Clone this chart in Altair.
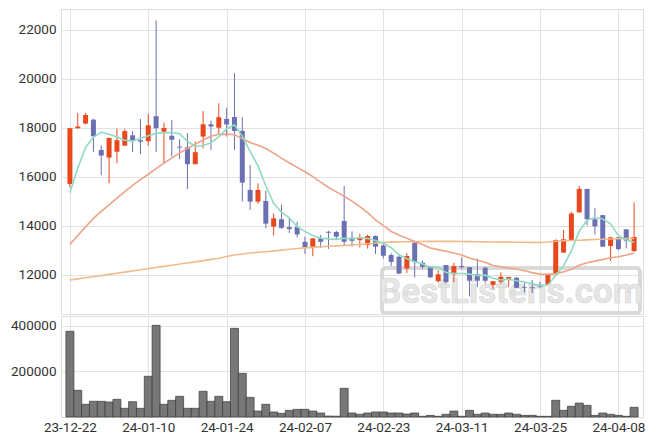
import altair as alt
import pandas as pd

dates = ["23-12-22", "23-12-26", "23-12-27", "23-12-28", "24-01-02", "24-01-03", "24-01-04", "24-01-05",
         "24-01-08", "24-01-09", "24-01-10", "24-01-11", "24-01-12", "24-01-15", "24-01-16", "24-01-17",
         "24-01-18", "24-01-19", "24-01-22", "24-01-23", "24-01-24", "24-01-25", "24-01-26", "24-01-29",
         "24-01-30", "24-01-31", "24-02-01", "24-02-02", "24-02-05", "24-02-06", "24-02-07", "24-02-08",
         "24-02-13", "24-02-14", "24-02-15", "24-02-16", "24-02-19", "24-02-20", "24-02-21", "24-02-22",
         "24-02-23", "24-02-26", "24-02-27", "24-02-28", "24-02-29", "24-03-04", "24-03-05", "24-03-06",
         "24-03-07", "24-03-08", "24-03-11", "24-03-12", "24-03-13", "24-03-14", "24-03-15", "24-03-18",
         "24-03-19", "24-03-20", "24-03-21", "24-03-22", "24-03-25", "24-03-26", "24-03-27", "24-03-28",
         "24-03-29", "24-04-01", "24-04-02", "24-04-03", "24-04-04", "24-04-05", "24-04-08", "24-04-09",
         "24-04-11"]

opens = [15700, 17980, 18170, 18330, 17090, 16780, 17020, 17270, 17690, 17490, 17450, 18470, 17840, 17670,
         17230, 17200, 16510, 17640, 18140, 18000, 18360, 18440, 17870, 15460, 14980, 15010, 13960, 14260,
         13940, 13950, 13340, 13110, 13480, 13750, 13740, 14190, 13505, 13410, 13210, 13575, 13190, 12800,
         12730, 12250, 13300, 12480, 12350, 11730, 12390, 12010, 12350, 12300, 12020, 12280, 11580, 11710,
         11830, 11870, 11490, 11480, 11520, 11600, 12010, 12900, 13380, 14540, 15500, 14260, 14430, 13170,
         13520, 13850, 12960]
highs = [18000, 18600, 18600, 18360, 17280, 17600, 17960, 17950, 17860, 18360, 18560, 22380, 18210, 18310,
         17530, 17780, 17430, 18680, 18290, 19000, 18820, 20230, 18430, 16470, 15730, 15430, 14500, 14860,
         14320, 14160, 13550, 13500, 13620, 13790, 13790, 15620, 13770, 13660, 13640, 13600, 13290, 12870,
         12800, 12880, 13310, 12570, 12350, 12180, 12390, 12480, 12700, 12310, 12660, 12320, 11730, 12090,
         11900, 11900, 11670, 11780, 11710, 12050, 13440, 13820, 14570, 15620, 15500, 14710, 14430, 13550,
         13530, 13850, 14950]
lows = [15550, 17960, 18140, 17000, 16060, 15730, 16550, 17250, 17000, 16920, 17260, 17010, 16520, 16820,
        16720, 15500, 16500, 17160, 17090, 17750, 17640, 17090, 14990, 14640, 14890, 13890, 13600, 13870,
        13690, 13520, 12840, 12750, 13080, 13050, 13450, 13180, 13140, 13110, 13060, 12840, 12660, 12350,
        12020, 12060, 11880, 12230, 11860, 11670, 11640, 11690, 12210, 11110, 11500, 11640, 11410, 11640,
        11500, 11450, 11260, 11260, 11460, 11570, 12010, 12880, 13370, 14540, 14020, 13640, 13140, 12560,
        13000, 13070, 12930]
closes = [17980, 18050, 18520, 17650, 16860, 17580, 17490, 17860, 17470, 17430, 18100, 17980, 17990, 17510,
          17190, 16510, 17000, 18140, 18050, 18430, 18130, 17870, 15760, 14980, 15460, 14080, 14300, 13910,
          13860, 13640, 13110, 13480, 13340, 13710, 13550, 13340, 13380, 13520, 13575, 13140, 12770, 12520,
          12040, 12760, 12510, 12320, 11890, 12010, 11690, 12350, 12300, 11750, 11750, 11750, 11730, 11910,
          11900, 11460, 11460, 11445, 11490, 12010, 13410, 13440, 14500, 15500, 14260, 13970, 13140, 13520,
          13040, 13380, 13540]
volumes = [375000, 116800, 55500, 68700, 68700, 65600, 77400, 38000, 67000, 38000, 178000, 401000, 55500,
           73000, 90500, 38000, 38000, 112500, 68700, 90500, 67000, 388000, 191000, 86000, 26000, 55500,
           22000, 16000, 29000, 33500, 33500, 26000, 17500, 4000, 3500, 125600, 17500, 11800, 17500, 22000,
           22000, 17500, 17500, 13000, 17500, 3000, 7000, 3000, 11800, 26000, 3000, 29000, 11800, 17500,
           11800, 11800, 17500, 11800, 7000, 7000, 3000, 3000, 73000, 29000, 46800, 61000, 51000, 7000,
           17500, 11800, 7000, 3000, 42300]
ma5 = [15340, 16350, 17200, 17620, 17812, 17732, 17620, 17488, 17452, 17566, 17670, 17768, 17794, 17802,
       17756, 17438, 17242, 17272, 17380, 17626, 17950, 18124, 17648, 17034, 16440, 15630, 14916, 14546,
       14322, 13958, 13764, 13600, 13486, 13458, 13440, 13486, 13466, 13502, 13473, 13390, 13276, 13105,
       12809, 12645, 12520, 12430, 12303, 12296, 12083, 12051, 12046, 12018, 11966, 11977, 11854, 11777,
       11807, 11750, 11692, 11635, 11551, 11573, 11963, 12359, 12970, 13772, 14222, 14334, 14273, 14077,
       13586, 13411, 13325]
ma20 = [13235, 13600, 13950, 14300, 14580, 14850, 15120, 15390, 15640, 15880, 16100, 16330, 16550, 16760,
        16960, 17150, 17330, 17500, 17650, 17730, 17740, 17710, 17560, 17400, 17280, 17150, 16960, 16760,
        16560, 16380, 16200, 16000, 15780, 15560, 15380, 15200, 15000, 14780, 14530, 14230, 14000, 13760,
        13620, 13480, 13350, 13230, 13090, 13020, 12950, 12880, 12800, 12680, 12590, 12500, 12370, 12320,
        12270, 12230, 12160, 12080, 12020, 12010, 12040, 12110, 12220, 12380, 12480, 12550, 12620, 12690,
        12730, 12800, 12870]
ma60 = [11777, 11825, 11870, 11915, 11965, 12010, 12055, 12100, 12150, 12195, 12240, 12290, 12335, 12380,
        12430, 12475, 12520, 12570, 12620, 12670, 12740, 12800, 12840, 12880, 12910, 12935, 12965, 13000,
        13035, 13065, 13090, 13110, 13135, 13160, 13175, 13190, 13210, 13230, 13260, 13290, 13310, 13325,
        13335, 13340, 13345, 13350, 13355, 13358, 13358, 13355, 13350, 13345, 13340, 13335, 13330, 13328,
        13325, 13322, 13320, 13318, 13317, 13330, 13360, 13382, 13395, 13405, 13420, 13435, 13445, 13455,
        13465, 13475, 13480]

price_ticks = [12000, 14000, 16000, 18000, 20000, 22000]
volume_ticks = [200000, 400000]
label_idx = list(range(0, len(dates), 10))

df = pd.DataFrame({
    "i": list(range(len(dates))), "date": dates, "open": opens, "high": highs, "low": lows,
    "close": closes, "volume": volumes, "ma5": ma5, "ma20": ma20, "ma60": ma60,
})
df["dir"] = ["up" if c >= o else "down" for o, c in zip(opens, closes)]

UP = "#e8481c"
DOWN = "#6b70b2"
W = 582
FONT = "Roboto"
FS = 13.5
LC = "#333333"
GC = "#e2e2e2"

label_arr = "[" + ",".join("'%s'" % dates[k] for k in label_idx) + "]"
xscale = alt.Scale(domain=[-0.5, len(dates) - 0.5], nice=False, zero=False)
x_top = alt.X("i:Q", scale=xscale, title=None,
              axis=alt.Axis(values=label_idx, labels=False, ticks=False, domain=False, grid=True,
                            gridColor=GC, minExtent=0, maxExtent=0, labelPadding=0, offset=0))
x_bot = alt.X("i:Q", scale=xscale, title=None,
              axis=alt.Axis(values=label_idx, labelExpr=label_arr + "[round(datum.value/10)]",
                            ticks=False, domain=False, grid=True, gridColor=GC, labelPadding=3,
                            labelFlush=False, labelOverlap=False, labelFont=FONT, labelFontSize=FS,
                            labelColor=LC))

color = alt.Color("dir:N", scale=alt.Scale(domain=["up", "down"], range=[UP, DOWN]), legend=None)
yscale = alt.Scale(domain=[10390, 22850], nice=False, zero=False)
yaxis = alt.Axis(values=price_ticks, title=None, ticks=False, domain=False, labelPadding=5, format="d",
                 labelFont=FONT, labelFontSize=FS, labelColor=LC, gridColor=GC)

base = alt.Chart(df)

watermark_box = base.mark_rect(filled=False, stroke="#d8d8d8", strokeWidth=3, cornerRadius=4,
                               opacity=0.8).encode(
    x=alt.value(321), x2=alt.value(579), y=alt.value(259), y2=alt.value(304))
watermark_text = alt.Chart(pd.DataFrame({"t": ["BestListens.com"]})).mark_text(
    fontSize=35, fontWeight="bold", font="Roboto", fill="#e6e6e6", stroke="#d6d6d6",
    strokeWidth=0.6, align="center", baseline="middle").encode(
    text="t:N", x=alt.value(450), y=alt.value(283))

wicks = base.mark_rule(strokeWidth=1).encode(
    x=x_top, y=alt.Y("low:Q", scale=yscale, axis=yaxis), y2="high:Q", color=color)
bodies = base.mark_bar(size=5).encode(
    x=x_top, y=alt.Y("open:Q", scale=yscale), y2="close:Q", color=color)
line60 = base.mark_line(color="#f2b98a", strokeWidth=1.6).encode(x=x_top, y=alt.Y("ma60:Q", scale=yscale))
line20 = base.mark_line(color="#eea386", strokeWidth=1.6).encode(x=x_top, y=alt.Y("ma20:Q", scale=yscale))
line5 = base.mark_line(color="#8edcbf", strokeWidth=1.6).encode(x=x_top, y=alt.Y("ma5:Q", scale=yscale))

top = alt.layer(watermark_box, watermark_text, wicks, bodies, line60, line20, line5).properties(
    width=W, height=305)

vol = base.mark_bar(size=8, fill="#777777", stroke="#3a3a3a", strokeWidth=0.7).encode(
    x=x_bot,
    y=alt.Y("volume:Q", scale=alt.Scale(domain=[0, 442000], nice=False),
            axis=alt.Axis(values=volume_ticks, title=None, ticks=False, domain=False, labelPadding=5,
                          format="d", labelFont=FONT, labelFontSize=FS, labelColor=LC, gridColor=GC)))
bottom = vol.properties(width=W, height=101)

chart = alt.vconcat(top, bottom, spacing=0).properties(
    padding={"left": 9, "top": 8, "right": 10, "bottom": 0}
).configure_view(stroke="#d2d2d2", strokeWidth=1).configure(background="white")

chart.save("out.html", embed_options={"renderer": "svg", "actions": False})
